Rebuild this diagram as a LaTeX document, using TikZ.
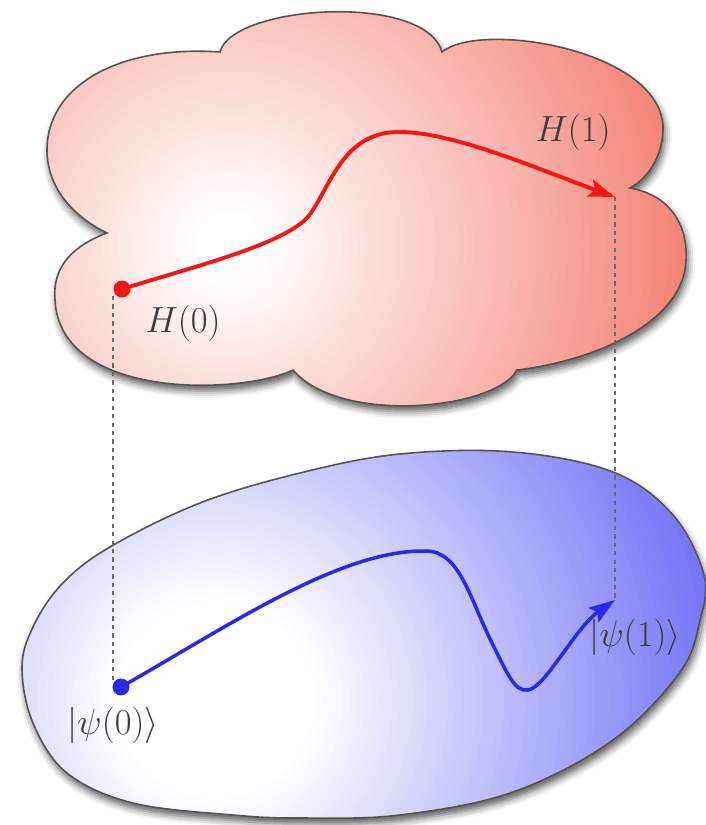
\documentclass[tikz,border=0pt]{standalone}
\usetikzlibrary{arrows.meta,shadows.blur}
\definecolor{cloudred}{RGB}{243,120,105}
\definecolor{ellblue}{RGB}{112,112,245}
\definecolor{edgegray}{RGB}{90,82,80}
\definecolor{curvered}{RGB}{242,22,22}
\definecolor{curveblue}{RGB}{40,40,240}
\definecolor{dashgray}{RGB}{105,105,105}
\definecolor{labgray}{RGB}{60,60,60}
\tikzset{
  outline/.style={draw=edgegray, line width=0.9pt},
  softshadow/.style={blur shadow={shadow xshift=1.2pt, shadow yshift=-3.2pt, shadow blur radius=4pt, shadow opacity=65}},
  redpath/.style={curvered, line width=2.2pt, -{Stealth[length=15pt,width=10pt,inset=3pt]}},
  bluepath/.style={curveblue, line width=2pt, -{Stealth[length=15pt,width=10pt,inset=3pt]}},
  dashline/.style={dashgray, line width=0.7pt, dash pattern=on 2.4pt off 2.4pt},
  lab/.style={text=labgray, font=\huge, inner sep=0pt},
}
\def\cloudpath{(107,233) .. controls (70,215) and (47,185) .. (47,150)
  .. controls (47,85) and (120,45) .. (220,52)
  .. controls (232,5) and (425,-8) .. (442,52)
  .. controls (480,20) and (665,50) .. (663,130)
  .. controls (662,160) and (645,180) .. (630,188)
  .. controls (670,195) and (688,225) .. (686,260)
  .. controls (684,320) and (600,360) .. (517,370)
  .. controls (495,410) and (340,425) .. (293,370)
  .. controls (240,395) and (60,400) .. (55,300)
  .. controls (52,265) and (75,245) .. (107,233) -- cycle}
\def\ellpath{plot[smooth cycle, tension=0.6] coordinates {(22,668) (33,627) (62,584) (110,547) (200,503) (300,473) (400,454) (513,452) (613,472) (673,515) (704,575) (700,620) (680,672) (613,740) (513,792) (400,815) (300,818) (233,815) (133,803) (67,773) (33,723)}}
\begin{document}
\begin{tikzpicture}[x=0.02cm,y=-0.02cm]
\useasboundingbox (0,0) rectangle (706,825);
% cloud
\fill[white, softshadow] \cloudpath;
\begin{scope}
  \clip \cloudpath;
  \fill[cloudred] (0,0) rectangle (706,430);
  \foreach \k in {60,59,...,0}{
    \pgfmathsetmacro\rr{35+7.75*\k}
    \pgfmathsetmacro\pc{1.6667*\k}
    \fill[cloudred!\pc!white] (230,245) circle (\rr);
  }
\end{scope}
\draw[outline] \cloudpath;
% ellipse
\fill[white, softshadow] \ellpath;
\begin{scope}
  \clip \ellpath;
  \fill[ellblue] (0,430) rectangle (706,825);
  \foreach \k in {60,59,...,0}{
    \pgfmathsetmacro\rr{100+7*\k}
    \pgfmathsetmacro\pc{1.6667*\k}
    \fill[ellblue!\pc!white] (215,700) circle (\rr);
  }
\end{scope}
\draw[outline] \ellpath;
% points
\coordinate (h0) at (122,289);
\coordinate (h1) at (615,197);
\coordinate (p0) at (121,687);
\coordinate (p1) at (615,600);
\coordinate (v0a) at (113,296);
\coordinate (v0b) at (113,680);
\draw[dashline] (v0a) -- (v0b);
\draw[dashline] (h1) -- (p1);
\draw[redpath] (h0) .. controls (200,265) and (280,245) .. (307,218)
  .. controls (330,190) and (340,135) .. (395,132)
  .. controls (450,130) and (540,170) .. (h1);
\fill[curvered] (h0) circle (8.5);
\draw[bluepath] (p0) .. controls (230,625) and (340,550) .. (425,551)
  .. controls (460,550) and (470,600) .. (493,645)
  .. controls (508,675) and (515,692) .. (528,690)
  .. controls (545,688) and (575,628) .. (p1);
\fill[curveblue] (p0) circle (8.5);
\node[lab] (lh0) at (183,323) {$H(0)$};
\node[lab] (lh1) at (573,132) {$H(1)$};
\node[lab] (lp0) at (113,725) {$|\psi(0)\rangle$};
\node[lab] (lp1) at (635,637) {$|\psi(1)\rangle$};
\end{tikzpicture}
\end{document}
